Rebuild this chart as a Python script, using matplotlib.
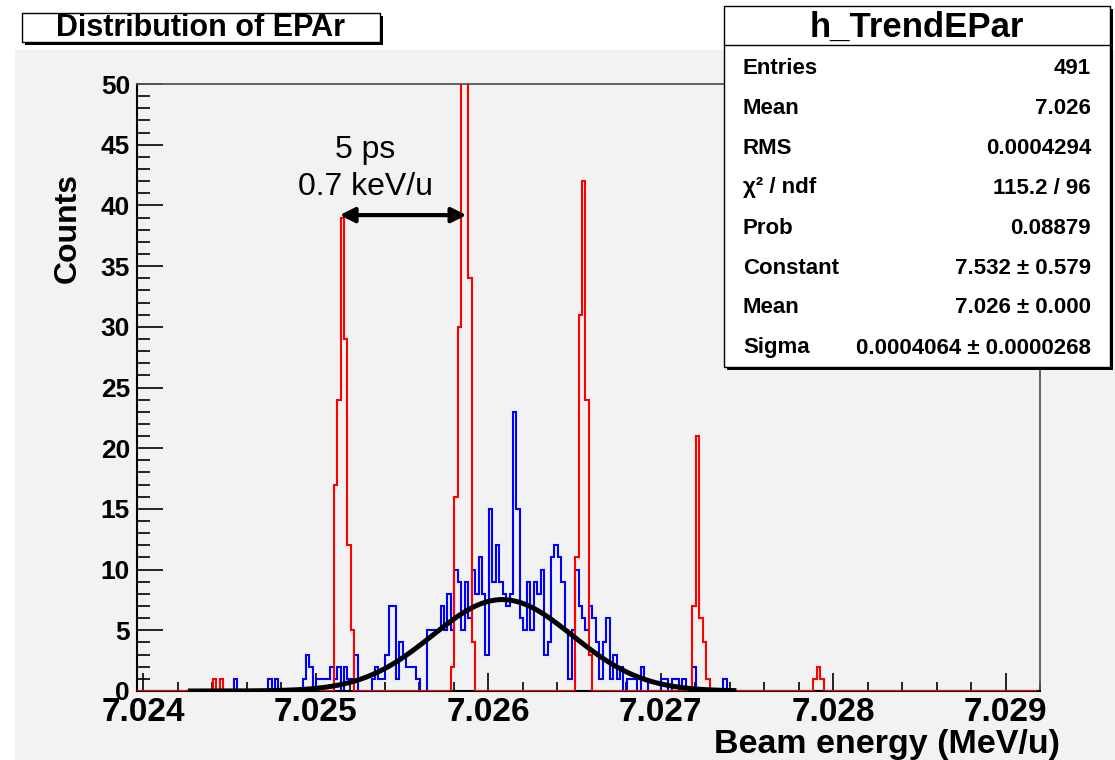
import matplotlib
matplotlib.use("Agg")
import matplotlib.pyplot as plt
import numpy as np
from matplotlib.patches import Rectangle

W, H = 1115, 760

# binning of h_TrendEPar
x_lo = 7.023965
bin_w = 0.00002
n_bins = 261

# measured histogram (blue), counts starting at bin index blue_first
blue_first = 28
blue_counts = [1, 0, 0, 0, 0, 0, 0, 0, 0, 0,            # 28-37
               1, 0, 1, 0, 0, 0, 0, 0, 0, 0,            # 38-47
               1, 3, 2, 0, 1, 1, 1, 1, 2, 1,            # 48-57
               2, 0, 2, 1, 1, 3, 0, 0, 0, 0,            # 58-67
               1, 2, 1, 1, 3, 7, 7, 1, 4, 3,            # 68-77
               2, 2, 2, 1, 0, 0, 5, 5, 5, 5,            # 78-87
               7, 5, 8, 5, 10, 9, 5, 9, 6, 10,          # 88-97
               8, 11, 8, 3, 15, 9, 12, 9, 8, 7,         # 98-107
               8, 23, 15, 6, 5, 9, 5, 9, 8, 10,         # 108-117
               3, 4, 11, 12, 11, 9, 5, 1, 5, 10,        # 118-127
               7, 6, 5, 7, 6, 4, 1, 4, 6, 1,            # 128-137
               3, 1, 2, 0, 1, 1, 1, 0, 2, 1,            # 138-147
               0, 0, 0, 0, 1, 1, 0, 1, 1, 0,            # 148-157
               1, 0, 0, 2, 0, 0, 0, 0, 0, 0,            # 158-167
               0, 0, 1]                                 # 168-170

# simulated bunch structure (red): first bin of each peak and its counts
red_peak_bins = [22, 24, 57, 91, 127, 161, 196]
red_peak_counts = [[1], [1],
                   [17, 24, 39, 29, 12, 5],
                   [2, 16, 30, 60, 60, 34, 4],
                   [11, 31, 42, 24, 3],
                   [7, 21, 6, 4, 1],
                   [1, 2, 1]]

# gaussian fit
fit_const = 7.532
fit_mean = 7.026083
fit_sigma = 0.0004064
fit_range = [7.02426, 7.02744]

stat_names = ["Entries", "Mean", "RMS", "χ² / ndf", "Prob",
              "Constant", "Mean", "Sigma"]
stat_values = ["491", "7.026", "0.0004294", "115.2 / 96", "0.08879",
               "7.532 ± 0.579", "7.026 ± 0.000", "0.0004064 ± 0.0000268"]

x_ticks = [7.024, 7.025, 7.026, 7.027, 7.028, 7.029]

font = "Liberation Sans"
bg = "#f2f2f2"


def fx(px):
    return px / W


def fy(py):
    return 1 - py / H


fig = plt.figure(figsize=(W / 100, H / 100), dpi=100)
fig.patch.set_facecolor("white")
# grey pad area behind the frame
fig.add_artist(Rectangle((fx(15), 0), 1 - fx(15), fy(50), facecolor=bg,
                         edgecolor="none", zorder=0))

ax = fig.add_axes([fx(137), fy(691), fx(1040) - fx(137), fy(84) - fy(691)])
ax.set_facecolor(bg)

edges = x_lo + bin_w * np.arange(n_bins + 1)
blue = np.zeros(n_bins)
blue[blue_first:blue_first + len(blue_counts)] = blue_counts
red = np.zeros(n_bins)
for b, c in zip(red_peak_bins, red_peak_counts):
    red[b:b + len(c)] = c

ax.stairs(blue, edges, color="#0000ff", lw=1.5, zorder=2)
ax.stairs(red, edges, color="#ff0000", lw=1.5, zorder=3)

xf = np.linspace(fit_range[0], fit_range[1], 400)
ax.plot(xf, fit_const * np.exp(-0.5 * ((xf - fit_mean) / fit_sigma) ** 2),
        color="black", lw=3.6, zorder=4, solid_capstyle="butt")

ax.set_xlim(x_lo, x_lo + n_bins * bin_w)
ax.set_ylim(0, 50)

ax.set_xticks(x_ticks)
ax.set_xticklabels(["%.3f" % v for v in x_ticks])
ax.set_xticks(np.arange(7.024, 7.0292, 0.0002), minor=True)
ax.set_yticks(np.arange(0, 51, 5))
ax.set_yticks(np.arange(0, 51, 1), minor=True)

ax.tick_params(axis="x", which="major", direction="in", length=13, width=1.2, pad=4)
ax.tick_params(axis="x", which="minor", direction="in", length=6.5, width=1.2)
ax.tick_params(axis="y", which="major", direction="in", length=19, width=1.2, pad=5)
ax.tick_params(axis="y", which="minor", direction="in", length=9.5, width=1.2)
ax.tick_params(top=False, right=False, which="both")
for lab in ax.get_xticklabels():
    lab.set_fontfamily(font)
    lab.set_fontweight("bold")
    lab.set_fontsize(24)
for lab in ax.get_yticklabels():
    lab.set_fontfamily(font)
    lab.set_fontweight("bold")
    lab.set_fontsize(19)

for s in ["left", "bottom"]:
    ax.spines[s].set_linewidth(1.5)
    ax.spines[s].set_color("black")
for s in ["top", "right"]:
    ax.spines[s].set_linewidth(1.3)
    ax.spines[s].set_color("#555555")

fig.text(fx(68), fy(228), "Counts", rotation=90, ha="center", va="center",
         fontsize=23, fontweight="bold", fontfamily=font)
fig.text(fx(1060), fy(744), "Beam energy (MeV/u)", ha="right", va="center",
         fontsize=24.5, fontweight="bold", fontfamily=font)

# arrow and annotation
ax.annotate("", xy=(7.025875, 39.2), xytext=(7.025140, 39.2),
            arrowprops=dict(arrowstyle="<|-|>", lw=3, color="black",
                            mutation_scale=22, shrinkA=0, shrinkB=0), zorder=6)
fig.text(fx(365), fy(150), "5 ps", ha="center", va="center",
         fontsize=23, fontfamily=font)
fig.text(fx(365), fy(187), "0.7 keV/u", ha="center", va="center",
         fontsize=23, fontfamily=font)


def box(x0, y0, x1, y1, shadow=3):
    fig.add_artist(Rectangle((fx(x0 + shadow), fy(y1 + shadow)),
                             fx(x1) - fx(x0), fy(y0) - fy(y1),
                             facecolor="black", edgecolor="none", zorder=8))
    fig.add_artist(Rectangle((fx(x0), fy(y1)), fx(x1) - fx(x0), fy(y0) - fy(y1),
                             facecolor="white", edgecolor="black", lw=1, zorder=9))


# title box
box(22, 13, 380, 42)
fig.text(fx(201), fy(28), "Distribution of EPAr", ha="center", va="center",
         fontsize=22, fontweight="bold", fontfamily=font, zorder=10)

# stats box
box(724, 6, 1110, 367)
fig.add_artist(plt.Line2D([fx(724), fx(1110)], [fy(45), fy(45)],
                          color="black", lw=1, zorder=10))
fig.text(fx(917), fy(27), "h_TrendEPar", ha="center", va="center",
         fontsize=25, fontweight="bold", fontfamily=font, zorder=10)
for i, (nm, val) in enumerate(zip(stat_names, stat_values)):
    y = fy(68 + 40 * i)
    fig.text(fx(743), y, nm, ha="left", va="center", fontsize=16,
             fontweight="bold", fontfamily=font, zorder=10)
    fig.text(fx(1091), y, val, ha="right", va="center", fontsize=16,
             fontweight="bold", fontfamily=font, zorder=10)

fig.savefig("out.png", dpi=100, facecolor=fig.get_facecolor())
